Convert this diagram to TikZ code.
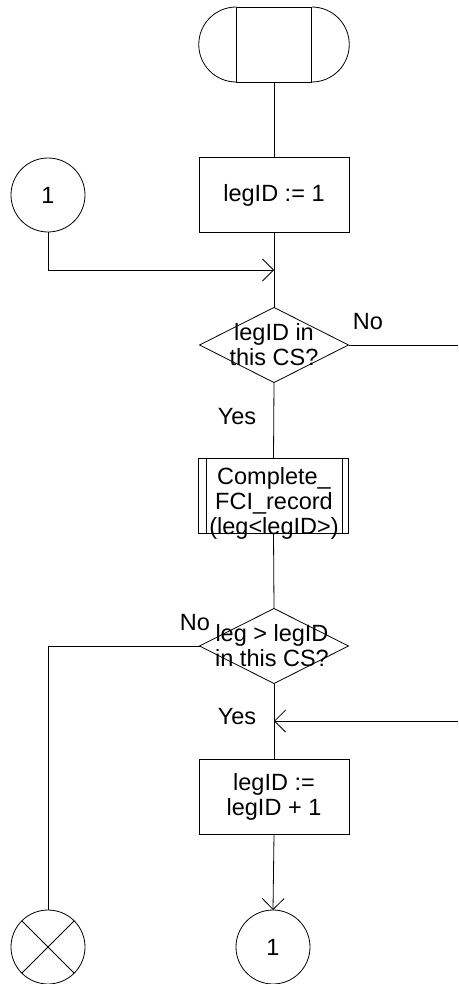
\documentclass[tikz,border=0pt]{standalone}
\usepackage{fontspec}
\setmainfont{Liberation Sans}
\usetikzlibrary{shapes.geometric,arrows.meta}
\begin{document}
\begin{tikzpicture}[x=1pt,y=-1pt, line width=0.8pt,
  every node/.style={inner sep=0pt, outer sep=0pt},
  txt/.style={font=\fontsize{23.5}{25}\selectfont, align=center},
  box/.style={draw, minimum width=150pt, minimum height=75pt},
  dec/.style={draw, diamond, minimum width=149pt, minimum height=75pt},
  conn/.style={draw, circle, minimum size=74pt, txt},
  arr/.style={-{Straight Barb[length=11pt,width=22pt]}}
]
\useasboundingbox (0,0) rectangle (458,984);
% terminator
\node[draw, minimum width=75.5pt, minimum height=75pt] (start) at (274,44.5) {};
\draw (start.north west) arc[start angle=90, end angle=270, radius=37.5pt];
\draw (start.north east) arc[start angle=90, end angle=-90, radius=37.5pt];
% nodes
\node[box, txt] (b1) at (274,195) {legID := 1};
\node[conn] (c1) at (48,195) {1};
\coordinate (m1) at (274,270);
\node[dec] (d1) at (274,345) {};
\node[txt] (t1) at (274,345) {legID in\\this CS?};
\node[txt] (no1) at (368,322) {No};
\node[txt] (yes1) at (237,417) {Yes};
\coordinate (r1) at (458,345);
\node[box] (p1) at (273.5,495.5) {};
\draw (206,458) -- (206,533) (342,458) -- (342,533);
\node[txt] (tp) at (274,503) {Complete\_\\FCI\_record\\(leg<legID>)};
\node[dec] (d2) at (274,646) {};
\node[txt] (t2) at (272,645.5) {leg > legID\\in this CS?};
\node[txt] (no2) at (195,623) {No};
\node[txt] (yes2) at (237,717) {Yes};
\coordinate (r2) at (458,721);
\coordinate (m2) at (274,721);
\node[box, txt] (b2) at (274,796.5) {legID :=\\legID + 1};
\node[conn] (c2) at (273,947) {1};
\node[conn] (x1) at (48,947) {};
\draw (x1.north west) -- (x1.south east) (x1.north east) -- (x1.south west);
% connectors
\draw (start.south) -- (b1.north);
\draw (b1.south) -- (d1.north);
\draw[arr] (c1.south) |- (m1);
\draw (d1.east) -- (r1);
\draw (d1.south) -- (p1.north);
\draw (p1.south) -- (d2.north);
\draw (d2.west) -| (x1.north);
\draw (d2.south) -- (b2.north);
\draw[arr] (r2) -- (m2);
\draw[arr] (b2.south) -- (c2.north);
\end{tikzpicture}
\end{document}
